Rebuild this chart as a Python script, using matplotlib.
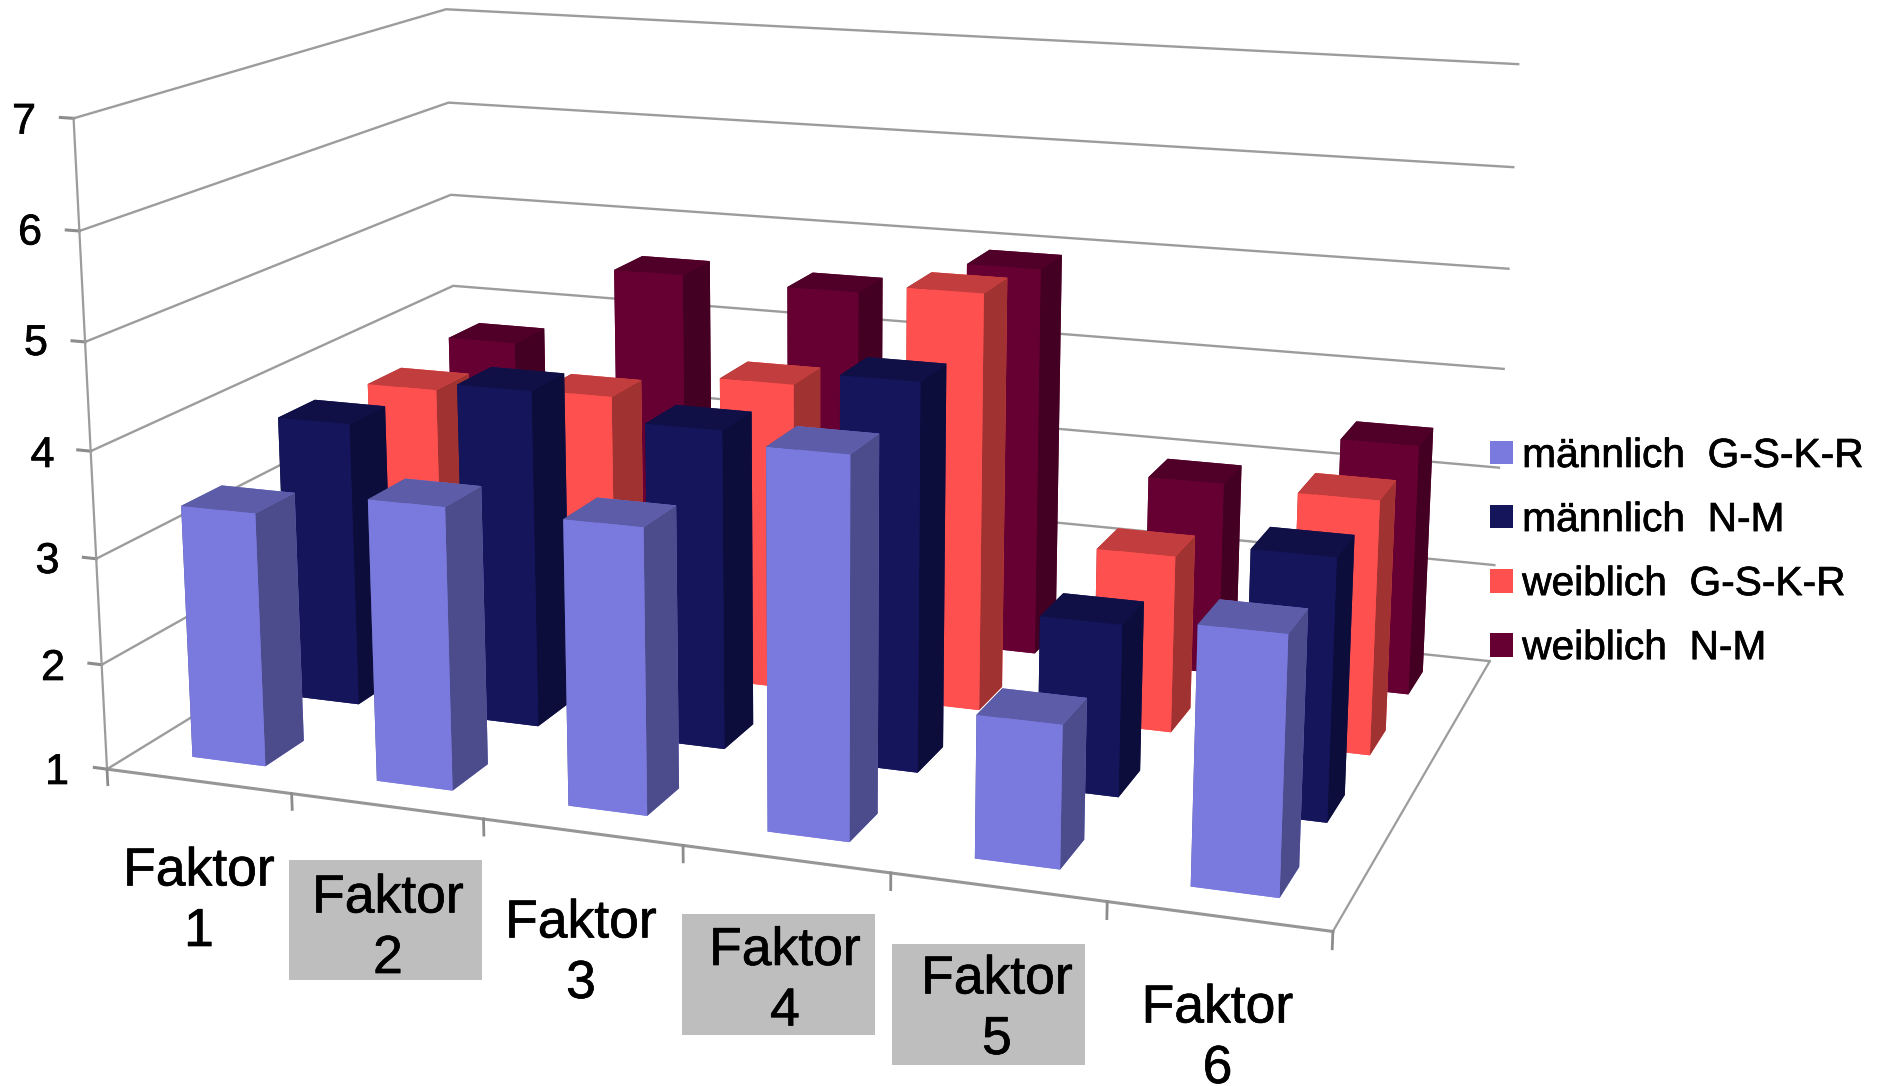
import numpy as np
import matplotlib
matplotlib.use('Agg')
import matplotlib.pyplot as plt
from matplotlib.patches import Patch, Rectangle
from matplotlib.patheffects import withStroke

W, H = 1885, 1086
plt.rcParams['font.family'] = ['Liberation Sans', 'DejaVu Sans']

factors = ['Faktor\n1', 'Faktor\n2', 'Faktor\n3', 'Faktor\n4', 'Faktor\n5', 'Faktor\n6']
levels = [1, 2, 3, 4, 5, 6, 7]
names = ['männlich  G-S-K-R', 'männlich  N-M', 'weiblich  G-S-K-R', 'weiblich  N-M']
maennlich_gskr = [3.40, 3.64, 3.64, 4.46, 2.29, 3.29]
maennlich_nm = [3.78, 4.26, 4.05, 4.66, 2.61, 3.42]
weiblich_gskr = [3.68, 3.77, 4.05, 5.08, 2.72, 3.44]
weiblich_nm = [3.75, 4.61, 4.57, 4.94, 2.94, 3.49]
series = [maennlich_gskr, maennlich_nm, weiblich_gskr, weiblich_nm]

front = ['#7A7ADE', '#15155C', '#FF5050', '#660033']
top = ['#5C5CA8', '#101046', '#C23D3D', '#500028']
side = ['#4C4C8C', '#0D0D3C', '#A03232', '#440022']
grid = '#9c9c9c'
# the reference text is a bit heavier than the plain font
heavy = [withStroke(linewidth=0.5, foreground='black')]

def fx(x):
    return x/W

def fy(y):
    return 1 - y/H

# camera found by fitting the box corners of the picture
size = 1539.7
cx, cy = 808.84, 428.94
fig = plt.figure(figsize=(W/100, H/100), dpi=100)
ax = fig.add_axes([fx(cx-size/2), fy(cy+size/2), size/W, size/H], projection='3d', computed_zorder=False)
ax.set_xlim(0, 6)
ax.set_ylim(0, 4)
ax.set_zlim(1, 7)
ax.view_init(14.099, -70.235, -0.029)
ax.set_proj_type('persp', focal_length=0.4311)
ax.set_box_aspect((1.8883, 1.2415, 1))
ax.set_axis_off()

# walls and floor
for lev in levels:
    ax.plot([0, 0, 6], [0, 4, 4], [lev, lev, lev], color=grid, lw=1.7, zorder=1)
    ax.plot([-0.07, 0], [0, 0], [lev, lev], color='#8c8c8c', lw=2.2, zorder=1)
ax.plot([0, 0], [0, 0], [1, 7], color=grid, lw=1.6, zorder=1)
ax.plot([0, 6], [0, 0], [1, 1], color='#969696', lw=2.2, zorder=1)
ax.plot([6, 6], [0, 4], [1, 1], color=grid, lw=1.6, zorder=1)
for i in range(7):
    ax.plot([i, i], [0, 0], [0.85, 1], color='#8c8c8c', lw=2, zorder=1)

# back row first, left to right, so nearer bars paint over
n = 0
for s in range(3, -1, -1):
    for i in range(6):
        cols = [front[s], top[s], front[s], front[s], side[s], side[s]]
        ax.bar3d(i+.3, s+.3, 1, .4, .4, series[s][i]-1, color=cols, shade=False, zorder=10+n)
        n += 1

# value axis labels
num_x = [57, 53, 47.5, 42.5, 36, 30, 24]
num_y = [784, 680, 573, 467, 355, 244.5, 133.6]
for lev, x, y in zip(levels, num_x, num_y):
    fig.text(fx(x), fy(y), str(lev), fontsize=31, ha='center', va='baseline', path_effects=heavy)

# category labels, some of them on a grey box
lab_x = [199, 388, 581, 785, 997, 1217.5]
lab_y = [946, 973, 998, 1025.5, 1054, 1083]
for lab, x, y in zip(factors, lab_x, lab_y):
    fig.text(fx(x), fy(y), lab, fontsize=38.5, ha='center', va='baseline', linespacing=1.27, zorder=5,
             path_effects=heavy)
for x0, y0, x1, y1 in [(289, 860, 482, 980), (682, 914, 875, 1034.5), (892, 943.5, 1085, 1064.5)]:
    fig.add_artist(Rectangle((fx(x0), fy(y1)), (x1-x0)/W, (y1-y0)/H, transform=fig.transFigure,
                             facecolor='#bebebe', edgecolor='none', zorder=2))

handles = [Patch(facecolor=c, edgecolor='none') for c in front]
leg = fig.legend(handles, names, loc='upper left', bbox_to_anchor=(fx(1490), fy(437)), bbox_transform=fig.transFigure,
                 fontsize=29.3, frameon=False, borderpad=0, borderaxespad=0, handlelength=0.57, handleheight=0.52,
                 handletextpad=0.22, labelspacing=0.64)
for t in leg.get_texts():
    t.set_path_effects(heavy)

fig.savefig('out.png', dpi=100)
